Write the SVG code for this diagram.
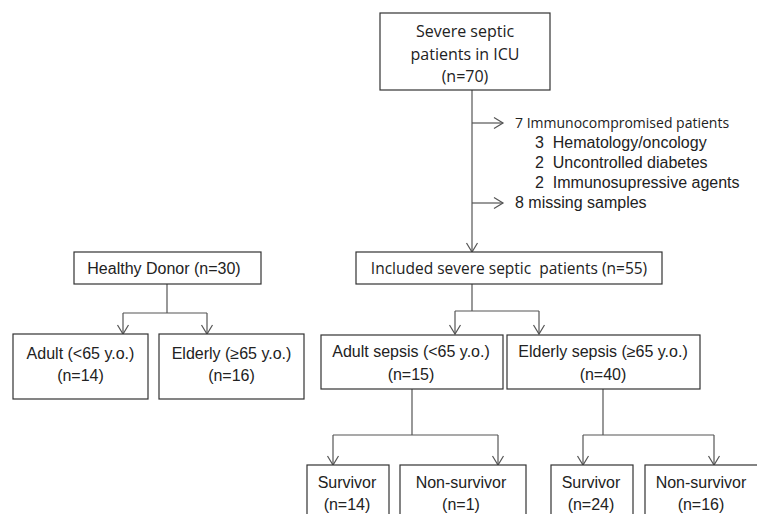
<svg xmlns="http://www.w3.org/2000/svg" width="757" height="514" viewBox="0 0 757 514">
<defs>
<style>
.box{fill:#fff;stroke:#333;stroke-width:1.2}
.ln{fill:none;stroke:#555;stroke-width:1.2}
.a{font-family:"Liberation Sans",Arial,sans-serif;font-size:16px;fill:#222}
.o{font-family:"Open Sans","Noto Sans",sans-serif;font-size:16px;fill:#222}
.m{text-anchor:middle}
</style>
<marker id="arr" viewBox="-11 -7 13 14" refX="0" refY="0" markerWidth="13" markerHeight="14" markerUnits="userSpaceOnUse" orient="auto">
<path d="M-9,-5.5 L0,0 L-9,5.5" fill="none" stroke="#555" stroke-width="1.2"/>
</marker>
</defs>
<rect width="757" height="514" fill="#fff"/>
<g id="connectors">
<path class="ln" d="M472,90 V252" marker-end="url(#arr)"/>
<path class="ln" d="M472,123 H503" marker-end="url(#arr)"/>
<path class="ln" d="M472,203 H503" marker-end="url(#arr)"/>
<path class="ln" d="M472,284 V311 M455,311 H539"/>
<path class="ln" d="M455,311 V334" marker-end="url(#arr)"/>
<path class="ln" d="M539,311 V334" marker-end="url(#arr)"/>
<path class="ln" d="M167,284 V313 M123,313 H207"/>
<path class="ln" d="M123,313 V334" marker-end="url(#arr)"/>
<path class="ln" d="M207,313 V334" marker-end="url(#arr)"/>
<path class="ln" d="M412,389 V435 M333,435 H498"/>
<path class="ln" d="M333,435 V465" marker-end="url(#arr)"/>
<path class="ln" d="M498,435 V465" marker-end="url(#arr)"/>
<path class="ln" d="M603,389 V435 M583,435 H714"/>
<path class="ln" d="M583,435 V465" marker-end="url(#arr)"/>
<path class="ln" d="M714,435 V465" marker-end="url(#arr)"/>
</g>
<g id="severe">
<rect class="box" x="380" y="13" width="170" height="77"/>
<text class="o m" x="465" y="37">Severe septic</text>
<text class="o m" x="465" y="60">patients in ICU</text>
<text class="o m" x="465" y="82">(n=70)</text>
</g>
<g id="exclusions">
<text class="o" x="515" y="128" style="font-size:14px">7 Immunocompromised patients</text>
<text class="a" x="535" y="148" xml:space="preserve">3  Hematology/oncology</text>
<text class="a" x="535" y="168" xml:space="preserve">2  Uncontrolled diabetes</text>
<text class="a" x="535" y="188" xml:space="preserve">2  Immunosupressive agents</text>
<text class="a" x="515" y="208">8 missing samples</text>
</g>
<g id="included">
<rect class="box" x="356" y="252" width="306" height="32"/>
<text class="o m" x="509" y="274" style="font-size:15.5px" xml:space="preserve">Included severe septic  patients (n=55)</text>
</g>
<g id="healthy">
<rect class="box" x="74" y="252" width="187" height="32"/>
<text class="a m" x="164" y="274">Healthy Donor (n=30)</text>
</g>
<g id="adult">
<rect class="box" x="13" y="334" width="135" height="65"/>
<text class="a m" x="80.5" y="359">Adult (&lt;65 y.o.)</text>
<text class="a m" x="80.5" y="381">(n=14)</text>
</g>
<g id="elderly">
<rect class="box" x="159" y="334" width="145" height="65"/>
<text class="a m" x="231.5" y="359">Elderly (≥65 y.o.)</text>
<text class="a m" x="231.5" y="381">(n=16)</text>
</g>
<g id="adult-sepsis">
<rect class="box" x="321" y="335" width="182" height="54"/>
<text class="a m" x="411" y="357">Adult sepsis (&lt;65 y.o.)</text>
<text class="a m" x="411" y="380">(n=15)</text>
</g>
<g id="elderly-sepsis">
<rect class="box" x="507" y="335" width="193" height="54"/>
<text class="a m" x="603" y="357">Elderly sepsis (≥65 y.o.)</text>
<text class="a m" x="603" y="380">(n=40)</text>
</g>
<g id="survivor1">
<rect class="box" x="307" y="465" width="82" height="70"/>
<text class="a m" x="347" y="488">Survivor</text>
<text class="a m" x="347" y="510">(n=14)</text>
</g>
<g id="nonsurvivor1">
<rect class="box" x="400" y="465" width="126" height="70"/>
<text class="a m" x="461" y="488">Non-survivor</text>
<text class="a m" x="461" y="510">(n=1)</text>
</g>
<g id="survivor2">
<rect class="box" x="551" y="465" width="82" height="70"/>
<text class="a m" x="591" y="488">Survivor</text>
<text class="a m" x="591" y="510">(n=24)</text>
</g>
<g id="nonsurvivor2">
<rect class="box" x="645" y="465" width="130" height="70"/>
<text class="a m" x="701" y="488">Non-survivor</text>
<text class="a m" x="701" y="510">(n=16)</text>
</g>
</svg>
